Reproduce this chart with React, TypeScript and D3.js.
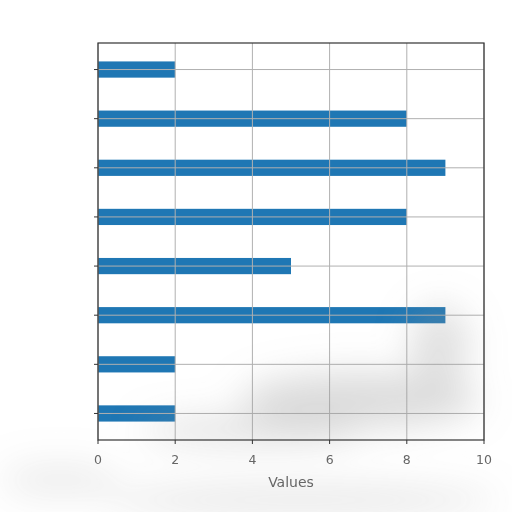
import React from 'react';
import * as d3 from 'd3';

// bars listed top to bottom
const categories = ['A', 'B', 'C', 'D', 'E', 'F', 'G', 'H'];
const values = [2, 8, 9, 8, 5, 9, 2, 2];
const xTickValues = [0, 2, 4, 6, 8, 10];
const xLabel = 'Values';

const width = 512;
const height = 512;
const marginLeft = 98;
const marginRight = 28;
const marginTop = 43;
const marginBottom = 72;
const boundedWidth = width - marginLeft - marginRight;
const boundedHeight = height - marginTop - marginBottom;
const barColor = '#1f77b4';
const gridColor = '#b0b0b0';
const frameColor = '#333333';
const tickTextColor = '#666666';

const App = () => {
  const xScale = d3.scaleLinear().domain([0, 10]).range([0, boundedWidth]);
  const yScale = d3.scalePoint<string>().domain(categories).range([0, boundedHeight]).padding(0.54);
  const barHeight = yScale.step() * 0.33;

  return (
    <svg width={width} height={height} style={{position: 'absolute', left: 0, top: 0, background: 'white'}}>
      <defs>
        <filter id="smudge" x="-50%" y="-50%" width="200%" height="200%">
          <feGaussianBlur stdDeviation="18"/>
        </filter>
      </defs>
      <g transform={`translate(${marginLeft}, ${marginTop})`}>
        {/* bars */}
        {categories.map((c, i) => (
          <rect key={c} x={xScale(0)} y={(yScale(c) as number) - barHeight / 2}
            width={xScale(values[i]) - xScale(0)} height={barHeight} fill={barColor}/>
        ))}
        {/* grid on top of the bars */}
        {categories.map(c => (
          <line key={'gy' + c} x1={0} x2={boundedWidth} y1={yScale(c)} y2={yScale(c)} stroke={gridColor} strokeWidth={1}/>
        ))}
        {xTickValues.map(v => (
          <line key={'gx' + v} x1={xScale(v)} x2={xScale(v)} y1={0} y2={boundedHeight} stroke={gridColor} strokeWidth={1}/>
        ))}
      </g>
      {/* faint smudges from the source image */}
      <g filter="url(#smudge)" fill="#9a9a9a">
        <ellipse cx={360} cy={400} rx={120} ry={28} opacity={0.35}/>
        <ellipse cx={440} cy={345} rx={30} ry={40} opacity={0.3}/>
        <ellipse cx={250} cy={430} rx={110} ry={14} opacity={0.3}/>
        <ellipse cx={300} cy={500} rx={200} ry={14} opacity={0.25}/>
        <ellipse cx={60} cy={480} rx={60} ry={16} opacity={0.2}/>
      </g>
      <g transform={`translate(${marginLeft}, ${marginTop})`}>
        {/* frame */}
        <rect x={0} y={0} width={boundedWidth} height={boundedHeight} fill="none" stroke={frameColor} strokeWidth={1.2}/>
        {/* y ticks */}
        {categories.map(c => (
          <line key={'ty' + c} x1={-4} x2={0} y1={yScale(c)} y2={yScale(c)} stroke={frameColor}/>
        ))}
        {/* x axis ticks */}
        <g transform={`translate(0, ${boundedHeight})`}>
          {xTickValues.map(v => (
            <g key={'tx' + v} transform={`translate(${xScale(v)}, 0)`}>
              <line y2={4} stroke={frameColor}/>
              <text y={24} textAnchor="middle" fontSize={12.5} fill={tickTextColor} fontFamily="DejaVu Sans">{v}</text>
            </g>
          ))}
        </g>
        <text x={boundedWidth / 2} y={boundedHeight + 47} textAnchor="middle" fontSize={14} fill={tickTextColor} fontFamily="DejaVu Sans">{xLabel}</text>
      </g>
    </svg>
  );
};

export default App;
